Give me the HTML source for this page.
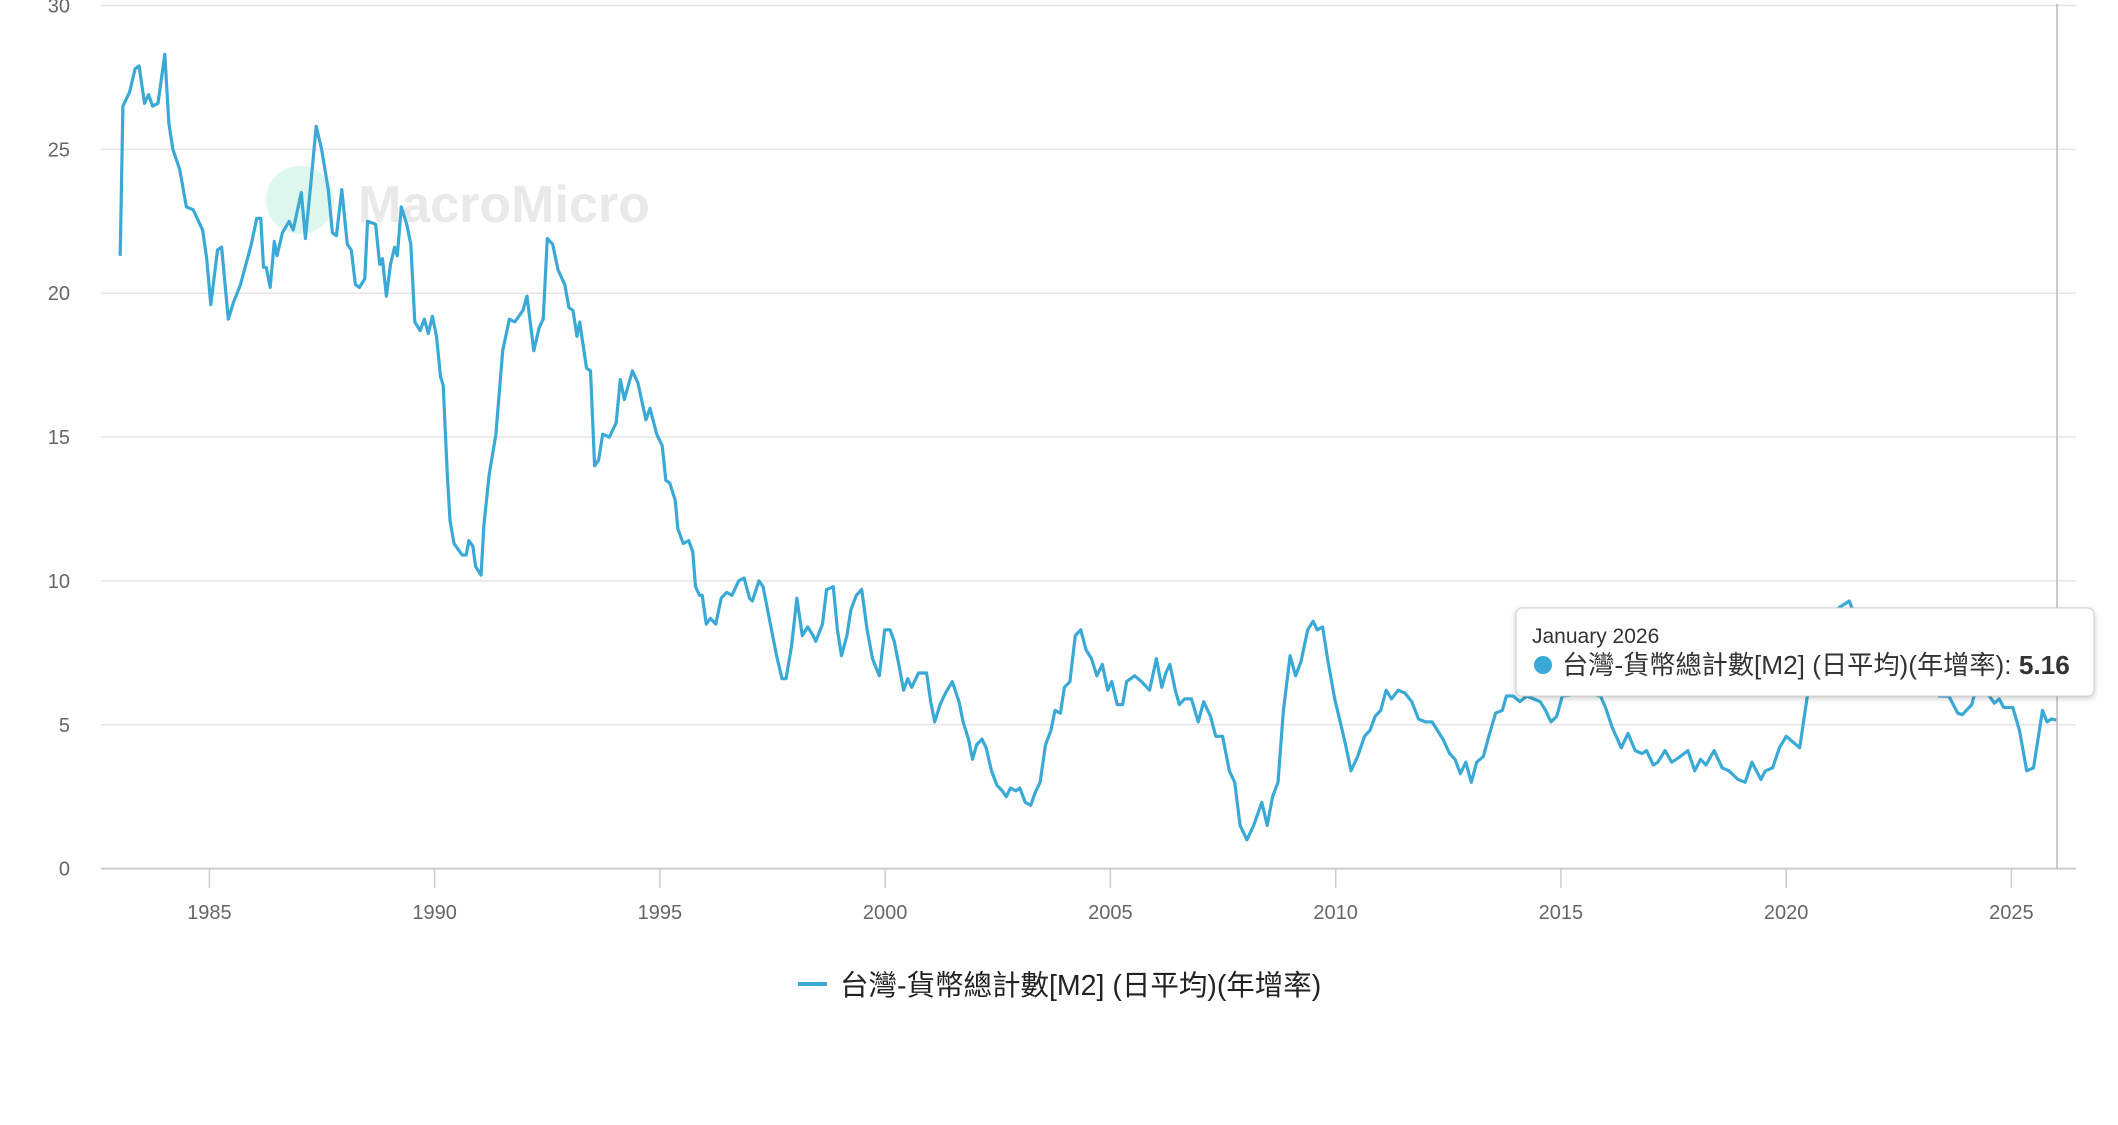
<!DOCTYPE html>
<html><head><meta charset="utf-8">
<style>
html,body{margin:0;padding:0;background:#fff;}
body{width:2118px;height:1120px;overflow:hidden;font-family:"Liberation Sans","Noto Sans CJK TC",sans-serif;}
svg text{font-family:"Liberation Sans","Noto Sans CJK TC",sans-serif;}
</style></head>
<body>
<svg id="chart" width="2118" height="1120" xmlns="http://www.w3.org/2000/svg">
  <defs>
    <filter id="sh" x="-5%" y="-20%" width="110%" height="150%">
      <feDropShadow dx="0" dy="2" stdDeviation="3" flood-color="#000" flood-opacity="0.2"/>
    </filter>
  </defs>
  <g id="grid"></g>
  <g id="yticks"></g>
  <g id="xticks"></g>
  <g>
    <circle cx="300" cy="200" r="34" fill="#ddf6ee"/>
    <text x="358" y="222" font-size="52" font-weight="bold" fill="#e9e9e9">MacroMicro</text>
  </g>
  <path id="series" fill="none" stroke="#3aa9d6" stroke-width="3.2" stroke-linejoin="round"/>
  <line x1="2057" y1="4" x2="2057" y2="869" stroke="#bbb" stroke-width="1.5"/>
  <g>
    <rect x="1516" y="608" width="578" height="88" rx="6" fill="#fff" stroke="#ccc" filter="url(#sh)"/>
    <text x="1532" y="643" font-size="21" fill="#333">January 2026</text>
    <circle cx="1543" cy="665" r="9" fill="#3aa9d6"/>
    <text x="1562" y="674" font-size="26.2" fill="#333">台灣-貨幣總計數[M2] (日平均)(年增率): <tspan font-weight="bold">5.16</tspan></text>
  </g>
  <g>
    <line x1="798" y1="984" x2="827" y2="984" stroke="#3aa9d6" stroke-width="4"/>
    <text x="840" y="995" font-size="28.5" fill="#222">台灣-貨幣總計數[M2] (日平均)(年增率)</text>
  </g>
</svg>
<script>
const yTicks=[0,5,10,15,20,25,30];
const xTicks=[1985,1990,1995,2000,2005,2010,2015,2020,2025];
const years=[1983.02,1983.08,1983.23,1983.35,1983.44,1983.56,1983.65,1983.74,1983.86,1984.01,1984.10,1984.19,1984.34,1984.49,1984.64,1984.85,1984.94,1985.03,1985.18,1985.27,1985.42,1985.54,1985.69,1985.93,1986.05,1986.14,1986.20,1986.26,1986.35,1986.44,1986.50,1986.62,1986.77,1986.86,1987.04,1987.13,1987.25,1987.37,1987.49,1987.64,1987.73,1987.82,1987.94,1988.06,1988.15,1988.24,1988.33,1988.45,1988.51,1988.69,1988.78,1988.84,1988.93,1989.02,1989.11,1989.17,1989.26,1989.38,1989.47,1989.56,1989.68,1989.77,1989.86,1989.95,1990.04,1990.13,1990.19,1990.28,1990.34,1990.43,1990.61,1990.70,1990.76,1990.85,1990.91,1991.03,1991.09,1991.21,1991.36,1991.51,1991.66,1991.78,1991.96,1992.05,1992.20,1992.32,1992.41,1992.50,1992.62,1992.74,1992.89,1992.98,1993.07,1993.16,1993.22,1993.37,1993.46,1993.55,1993.64,1993.73,1993.88,1994.03,1994.12,1994.21,1994.39,1994.51,1994.69,1994.78,1994.93,1995.05,1995.13,1995.22,1995.34,1995.40,1995.52,1995.64,1995.73,1995.79,1995.88,1995.94,1996.03,1996.12,1996.24,1996.36,1996.48,1996.60,1996.75,1996.87,1996.99,1997.05,1997.20,1997.29,1997.44,1997.59,1997.71,1997.80,1997.92,1998.04,1998.16,1998.28,1998.40,1998.46,1998.61,1998.70,1998.85,1998.94,1999.03,1999.15,1999.24,1999.36,1999.48,1999.60,1999.72,1999.87,1999.99,2000.11,2000.20,2000.29,2000.41,2000.50,2000.59,2000.74,2000.92,2001.01,2001.10,2001.22,2001.34,2001.49,2001.64,2001.73,2001.85,2001.94,2002.03,2002.15,2002.24,2002.36,2002.48,2002.60,2002.69,2002.78,2002.90,2002.99,2003.11,2003.23,2003.32,2003.44,2003.56,2003.68,2003.77,2003.89,2003.98,2004.10,2004.22,2004.34,2004.46,2004.58,2004.70,2004.82,2004.94,2005.03,2005.15,2005.27,2005.36,2005.54,2005.69,2005.87,2006.02,2006.14,2006.23,2006.32,2006.44,2006.53,2006.65,2006.80,2006.95,2007.07,2007.22,2007.34,2007.49,2007.64,2007.76,2007.88,2008.03,2008.18,2008.36,2008.48,2008.60,2008.72,2008.84,2008.99,2009.11,2009.23,2009.38,2009.50,2009.59,2009.71,2009.83,2009.98,2010.10,2010.22,2010.34,2010.49,2010.64,2010.76,2010.88,2011.00,2011.12,2011.24,2011.39,2011.54,2011.69,2011.84,2011.99,2012.14,2012.26,2012.38,2012.53,2012.65,2012.77,2012.89,2013.01,2013.13,2013.28,2013.40,2013.55,2013.70,2013.79,2013.94,2014.09,2014.24,2014.39,2014.54,2014.66,2014.78,2014.91,2015.03,2015.58,2015.88,2015.99,2016.14,2016.34,2016.49,2016.65,2016.80,2016.90,2017.05,2017.15,2017.31,2017.46,2017.61,2017.82,2017.97,2018.10,2018.22,2018.40,2018.58,2018.73,2018.93,2019.09,2019.24,2019.44,2019.54,2019.70,2019.85,2020.00,2020.15,2020.30,2020.46,2020.6,2020.8,2021.0,2021.2,2021.4,2021.6,2022.0,2022.5,2023.0,2023.2,2023.40,2023.61,2023.81,2023.91,2024.12,2024.17,2024.42,2024.62,2024.73,2024.83,2025.03,2025.18,2025.34,2025.49,2025.59,2025.69,2025.79,2025.89,2026.0];
const values=[21.3,26.5,27,27.8,27.9,26.6,26.9,26.5,26.6,28.3,25.9,25,24.3,23,22.9,22.2,21.2,19.6,21.5,21.6,19.1,19.7,20.3,21.7,22.6,22.6,20.9,20.9,20.2,21.8,21.3,22.1,22.5,22.2,23.5,21.9,23.8,25.8,25,23.6,22.1,22,23.6,21.7,21.5,20.3,20.2,20.5,22.5,22.4,21,21.2,19.9,21,21.6,21.3,23,22.4,21.7,19,18.7,19.1,18.6,19.2,18.5,17.1,16.8,13.7,12.1,11.3,10.9,10.9,11.4,11.2,10.5,10.2,11.9,13.7,15.1,18,19.1,19,19.4,19.9,18,18.8,19.1,21.9,21.7,20.8,20.3,19.5,19.4,18.5,19.0,17.4,17.3,14,14.2,15.1,15,15.5,17,16.3,17.3,16.9,15.6,16,15.1,14.7,13.5,13.4,12.8,11.8,11.3,11.4,11,9.8,9.5,9.5,8.5,8.7,8.5,9.4,9.6,9.5,10,10.1,9.4,9.3,10,9.8,8.6,7.4,6.6,6.6,7.7,9.4,8.1,8.4,8.1,7.9,8.5,9.7,9.8,8.3,7.4,8.1,9,9.5,9.7,8.3,7.3,6.7,8.3,8.3,7.9,7.2,6.2,6.6,6.3,6.8,6.8,5.8,5.1,5.7,6.1,6.5,5.8,5.1,4.5,3.8,4.3,4.5,4.2,3.4,2.9,2.7,2.5,2.8,2.7,2.8,2.3,2.2,2.6,3,4.3,4.8,5.5,5.4,6.3,6.5,8.1,8.3,7.6,7.3,6.7,7.1,6.2,6.5,5.7,5.7,6.5,6.7,6.5,6.2,7.3,6.3,6.8,7.1,6.2,5.7,5.9,5.9,5.1,5.8,5.3,4.6,4.6,3.4,3,1.5,1,1.5,2.3,1.5,2.5,3,5.5,7.4,6.7,7.2,8.3,8.6,8.3,8.4,7.2,5.9,5.1,4.3,3.4,3.9,4.6,4.8,5.3,5.5,6.2,5.9,6.2,6.1,5.8,5.2,5.1,5.1,4.8,4.5,4.0,3.8,3.3,3.7,3.0,3.7,3.9,4.6,5.4,5.5,6,6,5.8,6,5.9,5.8,5.5,5.1,5.3,6,6.1,6.0,5.6,4.9,4.2,4.7,4.1,4.0,4.1,3.6,3.7,4.1,3.7,3.85,4.1,3.4,3.8,3.6,4.1,3.5,3.4,3.1,3.0,3.7,3.1,3.4,3.5,4.2,4.6,4.4,4.2,5.9,7,8,8.8,9.1,9.3,8.5,8,7.5,7,6.5,6.0,6.0,5.4,5.35,5.7,6.0,6.2,5.75,5.9,5.6,5.6,4.8,3.4,3.5,4.5,5.5,5.1,5.2,5.16];

const X0=101,X1=2076;
function xs(yr){return 209.4+(yr-1985)*45.05;}
function ys(v){return 868.6-v*28.77;}
const NS='http://www.w3.org/2000/svg';
const grid=document.getElementById('grid'),yt=document.getElementById('yticks'),xt=document.getElementById('xticks');
yTicks.forEach(t=>{
  const l=document.createElementNS(NS,'line');
  l.setAttribute('x1',X0);l.setAttribute('x2',X1);l.setAttribute('y1',ys(t));l.setAttribute('y2',ys(t));
  l.setAttribute('stroke',t===0?'#ccc':'#e6e6e6');l.setAttribute('stroke-width',t===0?2:1.5);
  
  
  grid.appendChild(l);
  const tx=document.createElementNS(NS,'text');
  tx.setAttribute('x',70);tx.setAttribute('y',ys(t)+7);tx.setAttribute('text-anchor','end');
  tx.setAttribute('font-size','20');tx.setAttribute('fill','#666');tx.textContent=t;
  
  
  yt.appendChild(tx);
});
xTicks.forEach(t=>{
  const l=document.createElementNS(NS,'line');
  l.setAttribute('x1',xs(t));l.setAttribute('x2',xs(t));l.setAttribute('y1',869);l.setAttribute('y2',888);
  l.setAttribute('stroke','#ccc');l.setAttribute('stroke-width',1.5);
  
  
  xt.appendChild(l);
  const tx=document.createElementNS(NS,'text');
  tx.setAttribute('x',xs(t));tx.setAttribute('y',919);tx.setAttribute('text-anchor','middle');
  tx.setAttribute('font-size','20');tx.setAttribute('fill','#666');tx.textContent=t;
  
  
  xt.appendChild(tx);
});
let d='';
for(let i=0;i<years.length;i++){d+=(i?'L':'M')+xs(years[i]).toFixed(1)+','+ys(values[i]).toFixed(1);}
document.getElementById('series').setAttribute('d',d);
</script>
</body></html>
